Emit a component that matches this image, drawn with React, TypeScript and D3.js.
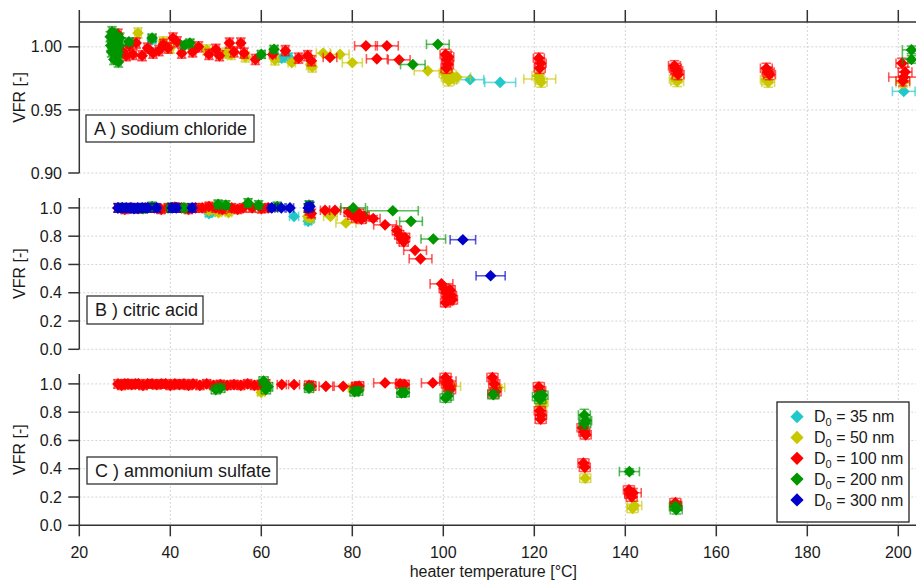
import { scaleLinear, symbol, symbolSquare } from "d3";

// [heater T, VFR, T error, VFR error]
type Pt = [number, number, number, number];

const tempTicks = [20, 40, 60, 80, 100, 120, 140, 160, 180, 200];
const naclTicks = [0.9, 0.95, 1.0];
const vfrTicks = [0, 0.2, 0.4, 0.6, 0.8, 1.0];
const sizesNm = [35, 50, 100, 200, 300];
const colors = ["#22c8c8", "#c8c800", "#ff0000", "#009600", "#0000c8"];

// A) sodium chloride
const naclD35: Pt[] = [
  [36, 1.0055, 0.7, 0.003], [64.5, 0.991, 0.7, 0.003], [66, 0.992, 0.7, 0.003],
  [101, 0.977, 0.8, 0.003], [105.9, 0.974, 3, 0], [112.5, 0.9718, 3.4, 0],
  [201.2, 0.9647, 2.5, 0],
];
const naclD50: Pt[] = [
  [28.5, 1.0, 0.7, 0.004], [32.9, 1.011, 0.7, 0.004], [38.4, 1.004, 0.7, 0.004],
  [40, 0.999, 0.7, 0.004], [48, 0.9976, 0.7, 0.004], [52.2, 0.995, 0.7, 0.004],
  [53.4, 0.994, 0.7, 0.004], [56.5, 0.992, 0.8, 0.004], [63, 0.9897, 0.8, 0.004],
  [66.7, 0.9874, 0.8, 0], [70.8, 0.986, 0.8, 0.004], [71.2, 0.984, 0.8, 0.004],
  [73.6, 0.995, 1.5, 0], [77.3, 0.994, 2, 0], [80, 0.9874, 2.2, 0], [96.6, 0.981, 3, 0],
  [100.3, 0.979, 1.2, 0.004], [100.8, 0.976, 1.2, 0.004], [101.2, 0.973, 1.2, 0.004],
  [101.6, 0.978, 1.2, 0.004], [102.2, 0.975, 1.2, 0.004], [103, 0.976, 3, 0],
  [120.8, 0.977, 1.3, 0.004], [121.2, 0.9745, 3.5, 0.004], [121.5, 0.972, 1.3, 0.004],
  [151, 0.9745, 1.3, 0.004], [151.4, 0.9725, 1.4, 0.004],
  [171, 0.974, 1.3, 0.004], [171.4, 0.972, 1.4, 0.004], [201, 0.9716, 1.5, 0.004],
];
const naclD100: Pt[] = [
  [28.5, 1.01, 0.7, 0.004], [29.6, 0.996, 0.7, 0.004], [30.3, 0.993, 0.7, 0.004],
  [31, 1.001, 0.7, 0.004], [31.8, 0.994, 0.7, 0.004], [32.5, 1.003, 0.7, 0.004],
  [33.8, 0.993, 0.7, 0.004], [35, 0.999, 0.7, 0.004], [36.2, 0.995, 0.7, 0.004],
  [37.5, 0.997, 0.7, 0.004], [38.5, 1.002, 0.7, 0.004], [39.5, 0.999, 0.7, 0.004],
  [40.6, 1.007, 0.7, 0.004], [41.5, 1.004, 0.7, 0.004], [42.5, 0.995, 0.7, 0.004],
  [44.9, 0.996, 0.7, 0.004], [46.2, 1.0, 0.7, 0.004], [48.5, 0.994, 0.7, 0.004],
  [50, 0.998, 0.7, 0.004], [50.8, 0.993, 0.7, 0.004], [53, 1.003, 0.7, 0.004],
  [54, 0.996, 0.7, 0.004], [55.5, 1.003, 0.7, 0.004], [56.2, 0.995, 0.7, 0.004],
  [58.7, 0.99, 0.7, 0.004], [62.5, 0.994, 0.7, 0], [65.3, 0.997, 0.7, 0.004],
  [68.2, 0.991, 0.7, 0.004], [70.2, 0.993, 0.7, 0.004], [71, 0.989, 0.7, 0.004],
  [75.1, 0.9916, 1.5, 0], [83, 1.0008, 2.5, 0], [85.4, 0.9905, 2.3, 0],
  [87.6, 1.0008, 2.5, 0], [90.3, 0.9897, 2.4, 0],
  [100.5, 0.994, 1.2, 0.004], [100.8, 0.99, 1.2, 0.004], [101, 0.986, 1.2, 0.004],
  [100.7, 0.983, 1.2, 0.004], [101.1, 0.992, 1.2, 0.004],
  [121, 0.991, 1.2, 0.004], [121.4, 0.987, 1.2, 0.004], [121.2, 0.983, 1.2, 0.004],
  [150.8, 0.985, 1.3, 0.004], [151.3, 0.981, 1.3, 0.004], [151.6, 0.978, 1.3, 0.004], [151, 0.983, 1.3, 0.004],
  [171, 0.983, 1.3, 0.004], [171.4, 0.98, 1.3, 0.004], [171.7, 0.978, 1.3, 0.004],
  [200.8, 0.987, 1.3, 0.004], [201.2, 0.976, 3.3, 0.004], [201.5, 0.98, 1.5, 0.004], [201, 0.973, 1.5, 0.004],
];
const naclD200: Pt[] = [
  [26.8, 1.008, 0.6, 0.004], [27.1, 0.996, 0.6, 0.004], [27.4, 1.003, 0.6, 0.004],
  [27.6, 0.99, 0.6, 0.004], [27.8, 1.01, 0.6, 0.004], [28.0, 0.999, 0.6, 0.004],
  [28.2, 0.993, 0.6, 0.004], [28.4, 1.005, 0.6, 0.004], [28.6, 0.988, 0.6, 0.004],
  [28.8, 1.001, 0.6, 0.004], [27.2, 1.012, 0.6, 0.004], [28.5, 0.995, 0.6, 0.004],
  [26.9, 1.001, 0.6, 0.004], [28.9, 1.007, 0.6, 0.004],
  [30.9, 1.004, 0.8, 0.003], [36, 1.007, 0.8, 0.003], [43.2, 1.0015, 0.8, 0.003],
  [44.3, 1.003, 0.8, 0.003], [60, 0.994, 0.8, 0.003], [62.8, 0.998, 0.8, 0.003],
  [93.3, 0.986, 2.7, 0], [98.8, 1.002, 2.5, 0],
  [202.9, 0.9976, 2, 0.003], [202.9, 0.99, 2, 0.003],
];

// B) citric acid
const citricD35: Pt[] = [
  [48.5, 0.96, 0.7, 0.02], [49.1, 0.97, 0.7, 0.02], [67.2, 0.94, 1, 0],
  [70.3, 0.905, 0.7, 0.02], [70.8, 0.92, 0.7, 0.02],
];
const citricD50: Pt[] = [
  [48.5, 0.98, 0.7, 0.02], [50.6, 0.967, 0.7, 0.02], [52.8, 0.967, 0.7, 0.02],
  [70.2, 0.94, 0.7, 0.03], [70.8, 0.93, 0.7, 0.03], [75.2, 0.94, 1.5, 0], [78.6, 0.893, 2.2, 0],
];
const citricD100: Pt[] = [
  [28.5, 1.0, 0.7, 0.03], [30, 0.99, 0.7, 0.03], [31.5, 1.0, 0.7, 0.03], [33, 0.995, 0.7, 0.03],
  [34.5, 1.0, 0.7, 0.03], [36.5, 1.0, 0.7, 0.03], [38, 0.99, 0.7, 0.03], [39.5, 1.0, 0.7, 0.03],
  [41, 1.005, 0.7, 0.03], [42.5, 1.0, 0.7, 0.03], [44, 0.99, 0.7, 0.03], [45.5, 1.0, 0.7, 0.03],
  [47, 1.0, 0.7, 0.03], [48.5, 1.01, 0.7, 0.03], [50, 1.0, 0.7, 0.03], [51.5, 0.99, 0.7, 0.03],
  [53.5, 1.0, 0.7, 0.03], [54.8, 0.99, 0.7, 0.03], [56, 1.0, 0.7, 0.03], [58, 1.0, 0.7, 0.03],
  [60, 0.995, 0.7, 0.03], [61.5, 1.0, 0.7, 0.03], [70.5, 0.98, 0.7, 0.03], [71, 0.96, 0.7, 0.03],
  [74, 0.983, 1, 0], [76.2, 0.983, 1.2, 0],
  [79.2, 0.97, 1, 0.03], [80, 0.95, 1, 0.03], [80.8, 0.93, 1, 0.03], [81.5, 0.96, 1, 0.03],
  [82, 0.92, 1, 0.03], [82.7, 0.94, 1, 0.03], [84.6, 0.925, 1.5, 0.02], [87.2, 0.88, 2.5, 0],
  [89.8, 0.84, 1, 0.03], [90.3, 0.81, 1, 0.03], [90.8, 0.78, 1, 0.03], [91.3, 0.76, 1, 0.03],
  [91.6, 0.79, 1, 0.03], [93.8, 0.7, 2.5, 0], [95, 0.64, 2.5, 0], [99.6, 0.463, 2.5, 0],
  [100.2, 0.43, 1.1, 0.03], [100.6, 0.4, 1.1, 0.03], [100.9, 0.37, 1.1, 0.03], [101.2, 0.345, 1.1, 0.03],
  [101.5, 0.42, 1.1, 0.03], [101.8, 0.38, 1.1, 0.03], [102, 0.35, 1.1, 0.03], [100.5, 0.33, 1.1, 0.03],
];
const citricD200: Pt[] = [
  [29.5, 1.0, 0.7, 0.03], [34, 0.995, 0.7, 0.03], [36, 1.01, 0.7, 0.03], [40, 1.0, 0.7, 0.03],
  [43, 1.0, 0.7, 0.03], [50.5, 1.025, 0.7, 0.03], [52.2, 1.02, 0.7, 0.03], [57.1, 1.035, 0.7, 0.03],
  [59.4, 1.02, 0.7, 0.03], [63.5, 1.01, 0.7, 0.03], [70.5, 1.02, 0.7, 0.03],
  [80.2, 1.0, 2.7, 0], [88.9, 0.98, 5.6, 0], [92.9, 0.905, 2.5, 0], [97.8, 0.78, 2.7, 0],
];
const citricD300: Pt[] = [
  [28.5, 1.0, 0.7, 0.03], [29.4, 1.0, 0.7, 0.03], [30.3, 1.0, 0.7, 0.03], [31.2, 1.0, 0.7, 0.03],
  [32, 0.995, 0.7, 0.03], [32.8, 1.0, 0.7, 0.03], [33.8, 1.0, 0.7, 0.03], [35, 1.0, 0.7, 0.03],
  [37, 1.0, 0.7, 0.03], [40.4, 1.0, 0.7, 0.03], [41.3, 1.0, 0.7, 0.03], [44.8, 1.0, 0.7, 0.03],
  [62.3, 1.0, 0.7, 0.02], [64.4, 1.0, 0.8, 0], [66.3, 1.0, 0.8, 0], [70.3, 1.0, 0.7, 0.03],
  [70.7, 1.01, 0.7, 0.03], [104.3, 0.775, 2.8, 0], [110.4, 0.52, 3.2, 0],
];

// C) ammonium sulfate
const sulfateD50: Pt[] = [
  [60, 0.94, 0.8, 0.02], [80, 0.97, 0.8, 0.02], [101.8, 0.983, 2, 0.02], [112, 0.975, 1.5, 0.02],
  [121.5, 0.84, 1.2, 0.03], [121.8, 0.87, 1.2, 0.03], [131.2, 0.333, 1.2, 0.03],
  [141.6, 0.12, 1.2, 0.03], [142, 0.14, 1.6, 0.03], [151, 0.14, 1.2, 0.03],
];
const sulfateD100: Pt[] = [
  [28.5, 1.0, 0.8, 0.03], [29.3, 0.99, 0.8, 0.03], [30, 1.0, 0.8, 0.03], [30.7, 1.0, 0.8, 0.03],
  [31.5, 0.995, 0.8, 0.03], [32.3, 1.0, 0.8, 0.03], [33, 1.0, 0.8, 0.03], [34, 0.99, 0.8, 0.03],
  [35, 1.0, 0.8, 0.03], [36, 1.0, 0.8, 0.03], [37, 0.995, 0.8, 0.03], [38, 1.0, 0.8, 0.03],
  [39, 1.0, 0.8, 0.03], [40, 0.99, 0.8, 0.03], [41, 1.0, 0.8, 0.03], [42, 0.995, 0.8, 0.03],
  [43, 1.0, 0.8, 0.03], [44, 0.99, 0.8, 0.03], [45, 1.0, 0.8, 0.03], [46.5, 0.99, 0.8, 0.03],
  [48, 1.0, 0.8, 0.03], [49.5, 0.99, 0.8, 0.03], [51, 0.995, 0.8, 0.03], [52.5, 0.99, 0.8, 0.03],
  [54, 0.995, 0.8, 0.03], [55.5, 0.99, 0.8, 0.03], [57, 1.0, 0.8, 0.03], [58.5, 0.99, 0.8, 0.03],
  [60, 0.995, 0.8, 0.03], [61, 1.0, 0.8, 0.03], [64.5, 0.995, 1, 0], [67.2, 0.995, 1.2, 0],
  [70.5, 0.99, 1, 0.03], [71, 0.985, 1, 0.03], [74.2, 0.983, 1.5, 0], [78, 0.983, 2, 0],
  [80.8, 0.98, 1, 0.03], [81.5, 0.985, 1, 0.03], [87.2, 1.007, 2.5, 0], [90.5, 1.0, 1, 0.03],
  [91.5, 0.995, 1, 0.03], [97.7, 1.007, 2.5, 0],
  [100.5, 1.045, 1.2, 0.03], [100.8, 1.0, 1.2, 0.03], [101.2, 0.98, 1.2, 0.03], [101.5, 0.96, 1.2, 0.03],
  [101, 1.02, 1.8, 0.03],
  [110.8, 1.045, 1.2, 0.03], [111.2, 1.0, 1.2, 0.03], [111, 0.93, 1.2, 0.03], [111.5, 0.945, 1.2, 0.03],
  [121, 0.98, 1.2, 0.03], [121.3, 0.95, 1.2, 0.03], [121.2, 0.81, 1.2, 0.03], [121.5, 0.78, 1.2, 0.03],
  [121.4, 0.75, 1.2, 0.03],
  [130.6, 0.69, 1.2, 0.03], [131, 0.66, 1.2, 0.03], [131.3, 0.64, 1.2, 0.03], [130.8, 0.44, 1.2, 0.03],
  [131.1, 0.41, 1.2, 0.03],
  [140.8, 0.25, 1.2, 0.03], [141.1, 0.22, 1.2, 0.03], [141.4, 0.2, 1.2, 0.03], [141.7, 0.23, 1.8, 0.03],
  [151, 0.16, 1.2, 0.03], [151.2, 0.14, 1.2, 0.03],
];
const sulfateD200: Pt[] = [
  [50, 0.96, 1, 0.03], [51, 0.97, 1, 0.03], [60.5, 1.02, 1, 0.03], [61, 0.96, 1, 0.03],
  [61.5, 0.98, 1, 0.03], [70.5, 0.97, 1, 0.03], [80.5, 0.945, 1, 0.03], [81.3, 0.95, 1, 0.03],
  [90.8, 0.936, 1, 0.03], [91.5, 0.94, 1, 0.03], [100.5, 0.9, 1.2, 0.03], [101, 0.915, 1.2, 0.03],
  [111, 0.924, 1.2, 0.03], [120.8, 0.91, 1.2, 0.03], [121.3, 0.89, 1.2, 0.03], [121.8, 0.92, 1.2, 0.03],
  [131, 0.78, 1.3, 0.04], [131.3, 0.74, 1.3, 0.04], [131.1, 0.72, 1.3, 0.04],
  [140.9, 0.38, 2.2, 0.02], [151, 0.132, 1.3, 0.03], [151.2, 0.11, 1.3, 0.03],
];

const font = "'Liberation Sans', Arial, sans-serif";
const axisColor = "#333";
const gridColor = "#d4d4d4";

const W = 916;
const H = 581;
const x = scaleLinear().domain([20, 204]).range([79.3, 916.5]);

const panels = [
  {
    name: "A ) sodium chloride",
    series: [naclD35, naclD50, naclD100, naclD200, []],
    y: scaleLinear().domain([0.9, 1.0197]).range([173, 22]),
    ticks: naclTicks,
    digits: 2,
    box: [86, 115, 168, 27],
  },
  {
    name: "B ) citric acid",
    series: [citricD35, citricD50, citricD100, citricD200, citricD300],
    y: scaleLinear().domain([0, 1.07]).range([349.3, 198]),
    ticks: vfrTicks,
    digits: 1,
    box: [87, 296, 116, 28],
  },
  {
    name: "C ) ammonium sulfate",
    series: [[], sulfateD50, sulfateD100, sulfateD200, []],
    y: scaleLinear().domain([0, 1.07]).range([525.3, 374]),
    ticks: vfrTicks,
    digits: 1,
    box: [87, 457, 190, 27],
  },
];

const diamond = symbol(symbolSquare, 68)() as string;
const legendDiamond = symbol(symbolSquare, 88)() as string;
const cap = 4.8;

function Series({ pts, color, y }: { pts: Pt[]; color: string; y: any }) {
  return (
    <g>
      <g stroke={color} strokeOpacity={0.65} strokeWidth={1.6} fill="none">
        {pts.map(([t, v, dt, dv], i) => {
          const cx = x(t);
          const cy = y(v);
          const x0 = x(t - dt);
          const x1 = x(t + dt);
          return (
            <g key={i}>
              <line x1={x0} x2={x1} y1={cy} y2={cy} />
              <line x1={x0} x2={x0} y1={cy - cap} y2={cy + cap} />
              <line x1={x1} x2={x1} y1={cy - cap} y2={cy + cap} />
              {dv > 0 && (
                <>
                  <line x1={cx} x2={cx} y1={y(v - dv)} y2={y(v + dv)} />
                  <line x1={cx - cap} x2={cx + cap} y1={y(v - dv)} y2={y(v - dv)} />
                  <line x1={cx - cap} x2={cx + cap} y1={y(v + dv)} y2={y(v + dv)} />
                </>
              )}
            </g>
          );
        })}
      </g>
      <g fill={color}>
        {pts.map(([t, v], i) => (
          <path key={i} d={diamond} transform={`translate(${x(t)},${y(v)}) rotate(45)`} />
        ))}
      </g>
    </g>
  );
}

export default function App() {
  const [gTop, gBottom] = [22, 525.3];
  return (
    <div style={{ position: "absolute", left: 0, top: 0 }}>
      <svg width={W} height={H} style={{ display: "block", background: "#fff", fontFamily: font }}>
        {/* vertical grid across all panels */}
        {tempTicks.slice(1).map((t) => (
          <line key={t} x1={x(t)} x2={x(t)} y1={gTop} y2={gBottom} stroke={gridColor} strokeDasharray="2,2" />
        ))}
        {panels.map((p, pi) => {
          const [r0, r1] = p.y.range();
          return (
            <g key={pi}>
              {p.ticks.map((v) => (
                <line key={v} x1={x(20)} x2={W} y1={p.y(v)} y2={p.y(v)} stroke={gridColor} strokeDasharray="2,2" />
              ))}
              <line x1={x(20)} x2={x(20)} y1={r1} y2={r0} stroke={axisColor} strokeWidth={1.5} />
              {p.ticks.map((v) => (
                <g key={v} transform={`translate(0,${p.y(v)})`}>
                  <line x1={x(20) - 11} x2={x(20)} stroke={axisColor} strokeWidth={1.5} />
                  <text x={62} dy="0.35em" textAnchor="end" fontSize={16} fill="#1a1a1a">
                    {v.toFixed(p.digits)}
                  </text>
                </g>
              ))}
              <text
                transform={`translate(25,${(r0 + r1) / 2}) rotate(-90)`}
                textAnchor="middle"
                fontSize={16}
                fill="#1a1a1a"
              >
                VFR [-]
              </text>
              {p.series.map((pts, si) => (
                <Series key={si} pts={pts} color={colors[si]} y={p.y} />
              ))}
              <rect
                x={p.box[0]}
                y={p.box[1]}
                width={p.box[2]}
                height={p.box[3]}
                fill="#fff"
                stroke={axisColor}
                strokeWidth={1.3}
              />
              <text x={p.box[0] + 8} y={p.box[1] + p.box[3] / 2} dy="0.36em" fontSize={18} fill="#1a1a1a">
                {p.name}
              </text>
            </g>
          );
        })}
        {/* top axis */}
        <line x1={x(20)} x2={W} y1={22} y2={22} stroke={axisColor} strokeWidth={1.5} />
        {tempTicks.map((t) => (
          <line key={t} x1={x(t)} x2={x(t)} y1={10} y2={22} stroke={axisColor} strokeWidth={1.5} />
        ))}
        {/* bottom axis */}
        <line x1={x(20)} x2={W} y1={gBottom} y2={gBottom} stroke={axisColor} strokeWidth={1.5} />
        {tempTicks.map((t) => (
          <g key={t} transform={`translate(${x(t)},${gBottom})`}>
            <line y1={0} y2={11} stroke={axisColor} strokeWidth={1.5} />
            <text y={33} textAnchor="middle" fontSize={16} fill="#1a1a1a">
              {t}
            </text>
          </g>
        ))}
        <text x={x(111)} y={577} textAnchor="middle" fontSize={16} fill="#1a1a1a">
          heater temperature [°C]
        </text>
        {/* legend */}
        <g>
          <rect x={777} y={402} width={132} height={120} fill="#fff" stroke="#222" strokeWidth={1.3} />
          {sizesNm.map((d, i) => {
            const cy = 416.7 + i * 20.8;
            return (
              <g key={d}>
                <path d={legendDiamond} fill={colors[i]} transform={`translate(797,${cy}) rotate(45)`} />
                <text x={814} y={cy} dy="0.36em" fontSize={16} fill="#1a1a1a">
                  D
                  <tspan fontSize={11} dy={4}>
                    0
                  </tspan>
                  <tspan dy={-4}>{` = ${d} nm`}</tspan>
                </text>
              </g>
            );
          })}
        </g>
      </svg>
    </div>
  );
}
